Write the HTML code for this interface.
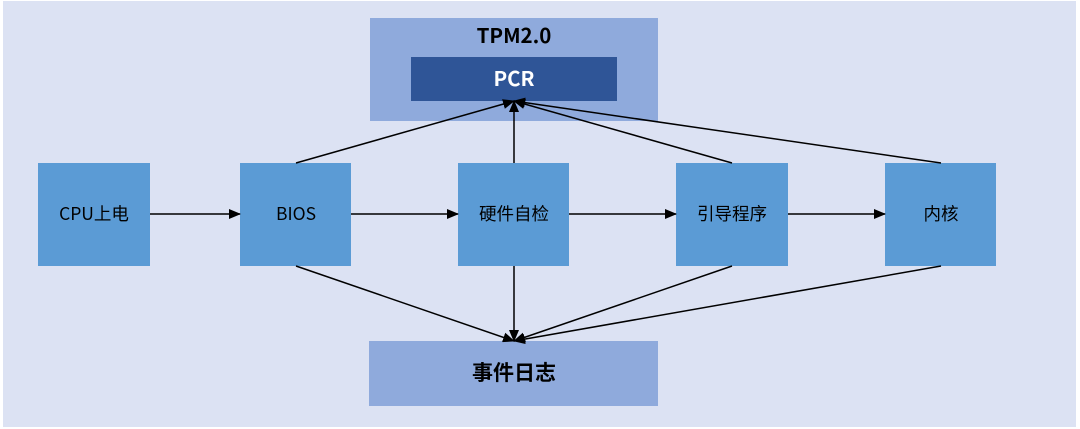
<!DOCTYPE html>
<html><head><meta charset="utf-8"><style>
html,body{margin:0;padding:0;background:#fff;}
svg{display:block;}
text{font-family:"Noto Sans CJK SC","Liberation Sans",sans-serif;}
</style></head><body>
<svg width="1080" height="429" viewBox="0 0 1080 429" xmlns="http://www.w3.org/2000/svg">
<defs>
<marker id="ah" markerWidth="12" markerHeight="10" refX="11" refY="5" orient="auto" markerUnits="userSpaceOnUse">
<path d="M0,0 L12,5 L0,10 Z" fill="#000"/>
</marker>
</defs>
<rect x="3" y="1" width="1073" height="426" fill="#dce2f3"/>
<rect x="370" y="18" width="288" height="103" fill="#8faadc"/>
<text x="514" y="43" font-size="20.5" font-weight="bold" text-anchor="middle" fill="#000">TPM2.0</text>
<rect x="411" y="57" width="206" height="44" fill="#2f5597"/>
<text x="514" y="86" font-size="20.5" font-weight="bold" text-anchor="middle" fill="#fff">PCR</text>
<rect x="369" y="341" width="289" height="65" fill="#8faadc"/>
<text x="514" y="380" font-size="21" font-weight="bold" text-anchor="middle" fill="#000">事件日志</text>
<g fill="#5b9bd5">
<rect x="38" y="163" width="112" height="103"/>
<rect x="240" y="163" width="111" height="103"/>
<rect x="458" y="163" width="111" height="103"/>
<rect x="676" y="163" width="112" height="103"/>
<rect x="885" y="163" width="111" height="103"/>
</g>
<g font-size="17.5" text-anchor="middle" fill="#000">
<text x="94" y="220">CPU上电</text>
<text x="296" y="220">BIOS</text>
<text x="514" y="220">硬件自检</text>
<text x="732" y="220">引导程序</text>
<text x="941" y="220">内核</text>
</g>
<g stroke="#000" stroke-width="1.5" fill="none" marker-end="url(#ah)">
<line x1="150" y1="214" x2="240" y2="214"/>
<line x1="351" y1="214" x2="458" y2="214"/>
<line x1="569" y1="214" x2="676" y2="214"/>
<line x1="788" y1="214" x2="885" y2="214"/>
<line x1="296" y1="163" x2="514" y2="101"/>
<line x1="514" y1="163" x2="514" y2="101"/>
<line x1="732" y1="163" x2="514" y2="101"/>
<line x1="941" y1="163" x2="514" y2="101"/>
<line x1="296" y1="266" x2="514" y2="341"/>
<line x1="514" y1="266" x2="514" y2="341"/>
<line x1="732" y1="266" x2="514" y2="341"/>
<line x1="941" y1="266" x2="514" y2="341"/>
</g>
</svg>
</body></html>
